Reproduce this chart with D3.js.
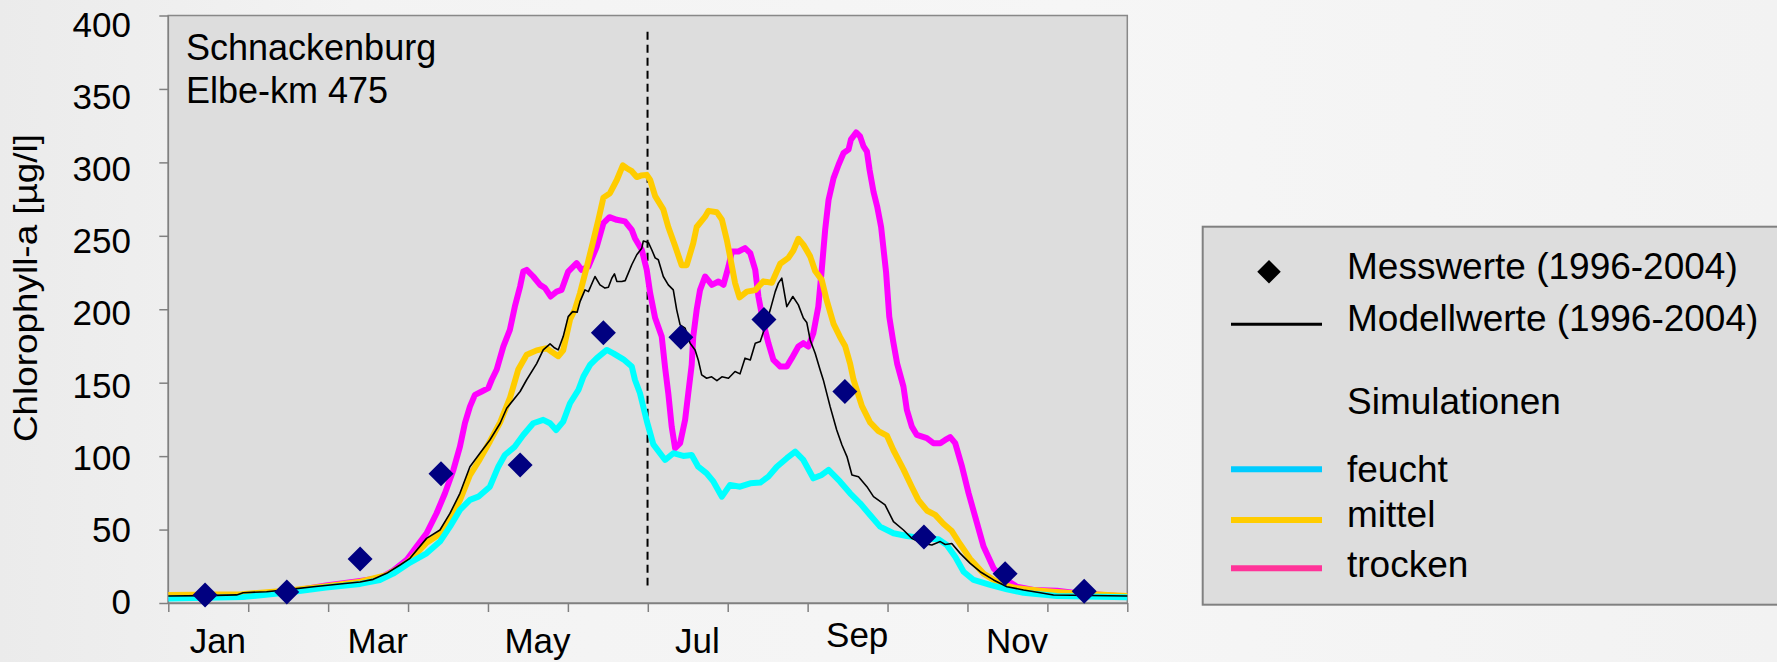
<!DOCTYPE html>
<html>
<head>
<meta charset="utf-8">
<script src="https://cdnjs.cloudflare.com/ajax/libs/d3/7.8.5/d3.min.js"></script>
<style>
    html, body { margin: 0; padding: 0; overflow: hidden; }
    body {
        width: 1777px; height: 662px;
        background: linear-gradient(to right, #ebebeb 0%, #f3f3f3 20%, #f6f6f6 60%, #f2f2f2 100%);
    }
    svg { display: block; font-family: "Liberation Sans", Arial, sans-serif; }
    .axis line, .axis path { stroke: #808080; stroke-width: 1.5; }
    .tick-label { font-size: 35px; fill: #000; }
    .legend-text { font-size: 37px; fill: #000; }
    .station-text { font-size: 36px; fill: #000; }
</style>
</head>
<body>
<div id="chart"></div>
<script>
// day of year (0-365) / Chlorophyll-a in µg/l
var monthLabels = ["Jan", "Mar", "May", "Jul", "Sep", "Nov"];
var labelMonths = [0, 2, 4, 6, 8, 10];
var yTicks = [0, 50, 100, 150, 200, 250, 300, 350, 400];
var dashDay = 182.4;
var dashRange = [12, 389];

var messwerte = [
    [14.0, 5.4], [45.1, 7.5], [73.0, 30], [103.8, 88], [133.9, 94], [165.6, 184],
    [195.1, 181], [226.7, 193], [257.5, 144], [287.6, 45], [318.5, 20], [348.6, 8]
];

var modellwerte = [
    [0, 4.8], [14, 5], [26, 5.5], [28.5, 7], [37.4, 7.7], [46.3, 9.3], [55.2, 11.1], [65.3, 12.9],
    [73, 14.3], [78, 16.1], [83.1, 20.2], [88.2, 25.9], [92, 30.4], [98.3, 44], [103.4, 49.7],
    [107.2, 61], [111, 74.7], [114.8, 92.8], [118.6, 102], [122.4, 111], [126.3, 122.4],
    [128.8, 132.6], [133.9, 144], [136.4, 152], [140.2, 163], [142.7, 172.3], [145.3, 176.4],
    [146.8, 174], [148.4, 172.3], [150.3, 181.4], [152.2, 195], [153.9, 198.4], [155.6, 198],
    [156.7, 205.2], [158.6, 213.2], [159.9, 212], [162.4, 222.3], [164.3, 216.6], [166.2, 214.4],
    [167.5, 215], [168.8, 221.1], [169.8, 224.1], [170.7, 219], [172.6, 218.9], [173.9, 219.5],
    [176.4, 230.3], [178.3, 237.1], [180.2, 241.6], [180.8, 246.5], [182.7, 245.5], [184, 240.5],
    [185.3, 235], [186.5, 233.7], [188.4, 222.3], [190.3, 216.6], [192.2, 213.2], [193.5, 199.6],
    [194.8, 189.4], [196.7, 187.1], [198.6, 176.9], [200.5, 172.3], [201.7, 165.5], [203, 155.3],
    [204.9, 153], [206.8, 154], [208.8, 151.4], [210.7, 154], [213.2, 153], [215.7, 157.6],
    [217.6, 156], [219.5, 166.7], [221.5, 165.5], [223.4, 176.9], [225.3, 178], [227.2, 188.2],
    [229.1, 199.6], [231, 212], [232.2, 217.8], [233.5, 221.2], [235.4, 201.8], [237.7, 208.7],
    [239.8, 203], [241.7, 194], [243, 191], [244.3, 179.1], [246.2, 170], [248.1, 158.7],
    [249.3, 151.9], [251.9, 133.7], [254.4, 117.8], [256.4, 107.6], [258.3, 99.7], [260.2, 87.2],
    [262.7, 86], [265.9, 79.2], [268.4, 72.4], [272.8, 66.8], [276, 55.4], [279.8, 49.7],
    [283, 44], [286.8, 40.7], [290.6, 39.5], [293.8, 41.8], [295.7, 39.8], [298.2, 40.5],
    [301.4, 33.8], [305.2, 27], [309, 21.3], [314.1, 15.7], [319.2, 11.1], [325.5, 8.9],
    [331.9, 7], [336.9, 5.4], [365, 4.8]
];

var feucht = [
    [0, 3], [28, 4], [47, 7.5], [60, 10.5], [73, 13], [80.5, 15.7], [85.6, 20], [92, 27.5],
    [98.3, 33.8], [103.4, 41.8], [107.2, 52], [111, 63.4], [114.8, 70.2], [118, 72.4], [122.4, 79.2],
    [125.6, 92.8], [128.1, 100.8], [131.9, 106.5], [135.1, 114.4], [138.9, 122.4], [142.7, 124.7],
    [145.3, 122.4], [147.6, 117.8], [150.3, 123.5], [152.9, 136], [156.1, 145.1], [158, 154.2],
    [160.5, 162.1], [163.1, 166.7], [166.9, 172.3], [169.4, 170], [173.2, 165.9], [176.4, 161],
    [177.6, 152], [179.5, 143], [182.1, 124], [184.6, 108], [189.1, 97.4], [192.2, 102],
    [196, 100.1], [199.2, 100.8], [201.7, 92.8], [204.9, 88.3], [207.5, 82.6], [210.7, 72.4],
    [213.8, 80.4], [217.6, 79.2], [221.5, 81.5], [225.3, 82], [228.4, 86], [231.6, 92.8],
    [235.4, 98.6], [238.6, 103.1], [241.7, 97.4], [245.5, 84.9], [248.7, 87.2], [251.3, 90.6],
    [255.7, 82.6], [259.5, 74.7], [263.3, 67.9], [267.1, 59.9], [270.9, 52], [276, 47.5],
    [281.1, 45.6], [287.4, 44], [293.1, 43.4], [296.3, 39.5], [299.5, 31.5], [302.7, 21.3],
    [306.5, 15.7], [312.8, 12.3], [319.2, 9.3], [325.5, 7], [338.2, 4.8], [365, 3.9]
];

var mittel = [
    [0, 5.5], [28, 6], [46, 8.5], [60, 11.5], [73, 14.5], [83, 19], [88, 24], [92, 29],
    [98.3, 41], [103.4, 47], [107.2, 57], [111, 70], [114.8, 87], [118.6, 98], [122.4, 110],
    [126.3, 123], [130.1, 140], [133.2, 159], [136.4, 169], [140.2, 172], [144, 173.5],
    [145.9, 171], [148.4, 168], [150.3, 172], [152.9, 193], [154.8, 200], [156.7, 211],
    [159.3, 229], [161.8, 247], [163.7, 261], [165.6, 276], [168.1, 279], [170.7, 288],
    [173, 298], [174.5, 296], [176.4, 294], [178.3, 290], [179.9, 291], [182.1, 291.5],
    [183.4, 288], [185.3, 277], [188.4, 268], [190.3, 256], [192.9, 243], [195.4, 230],
    [197.3, 230], [199.8, 245], [201.1, 256], [204.3, 263], [205.6, 267], [208.8, 266],
    [210.7, 261], [212.6, 247], [213.8, 236], [215.7, 218], [217.4, 208], [220.2, 212],
    [223.4, 213], [226.5, 219], [229.7, 218], [232.9, 231], [236, 235], [237.9, 240],
    [239.8, 248], [241.7, 244], [244.3, 236], [246.2, 226], [248.7, 220], [250.6, 206],
    [253.2, 190], [255.7, 181], [257.6, 175], [259.5, 163], [260.8, 152], [264, 134],
    [267.1, 123], [270.3, 117], [273.5, 114], [276, 104], [279.8, 91], [283, 79],
    [285.5, 70], [288.7, 63], [291.9, 60], [295, 54], [298.2, 49], [301.4, 40],
    [305.2, 30], [310.3, 20], [316.6, 13], [323, 10], [331.9, 8.4], [344.4, 6.6], [365, 4.8]
];

var trocken = [
    [0, 4], [28, 4.5], [47, 8], [60, 12], [73, 15], [80.5, 17], [85.6, 22], [90.7, 29.3],
    [94.5, 38.4], [98.3, 47.5], [102.1, 61.1], [105.3, 74.7], [108.5, 90.6], [111, 106.5],
    [112.9, 122.4], [114.8, 133.7], [116.7, 141.7], [119.3, 144], [121.8, 146.3], [123.1, 152],
    [125, 159], [127.5, 174.6], [130, 186], [131.9, 201.8], [133.9, 215.5], [135.1, 225.7],
    [136.4, 226.8], [138.9, 222.3], [141.5, 216.6], [143.4, 214.4], [145.5, 208.7], [147.8, 212],
    [149.7, 213.2], [152.2, 225.7], [155.4, 231.4], [157.3, 226.8], [159.9, 229.1], [163.1, 242.7],
    [165.6, 258.6], [167.9, 262.7], [170.7, 260.9], [173.8, 259.8], [176.4, 254], [177.6, 248.4],
    [180.2, 240.5], [182.1, 226.8], [183.4, 211], [185.3, 194], [187.8, 181.4], [189.1, 160],
    [190.3, 142.8], [191.6, 120], [192.9, 105.4], [194.8, 108.8], [196.7, 124.7], [197.9, 142.8],
    [199.2, 162], [199.8, 181.4], [201.1, 199.6], [202.4, 213.2], [204.3, 222.3], [206.9, 216.6],
    [209.4, 218.9], [211.3, 216.6], [213.2, 229], [214.5, 239.3], [217, 239.3], [219.5, 241.6],
    [221.5, 238.2], [223.4, 226.8], [224.6, 208.7], [226.5, 190.5], [228.4, 176.9], [230.3, 165.5],
    [232.9, 161], [235.4, 161], [237.3, 166.7], [239.8, 174.6], [241.7, 176.9], [243.6, 174.6],
    [245.5, 183.7], [247.4, 201.8], [248.7, 226.8], [250, 254], [251.3, 274.5], [253.2, 289.3],
    [255.1, 298.4], [257, 306.4], [258.9, 308.7], [259.8, 315.5], [261.8, 320.4], [263.3, 317.7],
    [264.6, 310.9], [265.9, 307.4], [266.9, 295], [268.4, 280], [269.8, 270], [271.3, 256],
    [273.2, 225], [274.4, 195], [275.9, 178], [277.4, 163], [279.8, 147.3], [281.1, 131.5],
    [283, 120.1], [284.9, 114.4], [288.7, 112.2], [291.2, 108.8], [293.8, 108.8], [295.7, 111],
    [297.6, 112.9], [299.5, 108.8], [302.1, 92.8], [304.6, 74.7], [307.1, 58.8], [310.3, 38.4],
    [314.1, 23.6], [317.9, 16.8], [323, 11.1], [329.3, 8.9], [338.2, 8.4], [344.5, 7], [365, 4.3]
];

var legendItems = [
    {label: "feucht", color: "#00ccff"},
    {label: "mittel", color: "#ffcc00"},
    {label: "trocken", color: "#ff3399"}
];

(function() {
    var width = 1777, height = 662;
    var plot = {left: 168.3, right: 1127.3, top: 15.5, bottom: 603};

    var x = d3.scaleLinear().domain([0, 365]).range([plot.left, plot.right]);
    var y = d3.scaleLinear().domain([0, 400]).range([plot.bottom, plot.top]);
    // the tick labels sit on a slightly tighter spacing than the ticks
    var yLabel = d3.scaleLinear().domain([0, 400]).range([601.7, 24]);
    var monthStep = 365 / 12;

    var svg = d3.select("#chart").append("svg")
        .attr("width", width)
        .attr("height", height);

    svg.append("rect")
        .attr("x", plot.left)
        .attr("y", plot.top)
        .attr("width", plot.right - plot.left)
        .attr("height", plot.bottom - plot.top)
        .style("fill", "#dddddd")
        .style("stroke", "#888888")
        .style("stroke-width", 1.5);

    // axes
    var yAxis = svg.append("g").classed("axis", true)
        .attr("transform", "translate(" + plot.left + ",0)")
        .call(d3.axisLeft(y).tickValues(yTicks).tickSize(9).tickFormat(""));
    yAxis.select(".domain").remove();
    svg.append("line")
        .attr("x1", plot.left).attr("x2", plot.left)
        .attr("y1", plot.top).attr("y2", plot.bottom)
        .style("stroke", "#808080").style("stroke-width", 1.5);

    svg.append("g")
        .selectAll("text")
        .data(yTicks)
        .enter()
        .append("text")
            .classed("tick-label", true)
            .attr("x", 131)
            .attr("y", function(d) { return yLabel(d); })
            .attr("dy", "0.36em")
            .attr("text-anchor", "end")
            .text(function(d) { return d; });

    var xAxis = svg.append("g").classed("axis", true)
        .attr("transform", "translate(0," + plot.bottom + ")")
        .call(d3.axisBottom(x).tickValues(d3.range(13).map(function(i) { return i * monthStep; }))
            .tickSize(9).tickSizeOuter(0).tickFormat(""));

    svg.append("g")
        .selectAll("text")
        .data(monthLabels)
        .enter()
        .append("text")
            .classed("tick-label", true)
            .attr("x", function(d, i) { return x((labelMonths[i] + 0.62) * monthStep); })
            .attr("y", function(d) { return d == "Sep" ? 647 : 653; })
            .attr("text-anchor", "middle")
            .text(function(d) { return d; });

    svg.append("text")
        .classed("tick-label", true)
        .attr("transform", "translate(37, 288) rotate(-90)")
        .attr("text-anchor", "middle")
        .attr("textLength", 308)
        .attr("lengthAdjust", "spacingAndGlyphs")
        .style("font-size", "33px")
        .text("Chlorophyll-a [µg/l]");

    // station label
    var station = svg.append("g").attr("transform", "translate(186, 0)");
    station.append("text").classed("station-text", true).attr("y", 60).text("Schnackenburg");
    station.append("text").classed("station-text", true).attr("y", 103).text("Elbe-km 475");

    // dashed separator
    svg.append("line")
        .attr("x1", x(dashDay)).attr("x2", x(dashDay))
        .attr("y1", y(dashRange[1])).attr("y2", y(dashRange[0]))
        .style("stroke", "#000")
        .style("stroke-width", 2)
        .style("stroke-dasharray", "8,5");

    var line = d3.line()
        .x(function(d) { return x(d[0]); })
        .y(function(d) { return y(d[1]); });

    var series = [
        {data: trocken, color: "#ff00ff", w: 6},
        {data: mittel, color: "#ffcc00", w: 6},
        {data: feucht, color: "#00ffff", w: 6},
        {data: modellwerte, color: "#000000", w: 1.6}
    ];

    svg.append("g")
        .selectAll("path")
        .data(series)
        .enter()
        .append("path")
            .attr("d", function(d) { return line(d.data); })
            .style("fill", "none")
            .style("stroke", function(d) { return d.color; })
            .style("stroke-width", function(d) { return d.w; })
            .style("stroke-linejoin", "round")
            .style("stroke-linecap", "butt");

    var diamond = d3.symbol().type(d3.symbolSquare).size(312);
    svg.append("g")
        .selectAll("path")
        .data(messwerte)
        .enter()
        .append("path")
            .attr("d", diamond)
            .attr("transform", function(d) { return "translate(" + x(d[0]) + "," + y(d[1]) + ") rotate(45)"; })
            .style("fill", "#000080");

    // legend
    var legend = svg.append("g").classed("legend", true);
    legend.append("rect")
        .attr("x", 1202.7)
        .attr("y", 226.7)
        .attr("width", 700)
        .attr("height", 378)
        .style("fill", "#dddddd")
        .style("stroke", "#808080")
        .style("stroke-width", 2);

    legend.append("path")
        .attr("d", d3.symbol().type(d3.symbolSquare).size(276))
        .attr("transform", "translate(1269, 271.7) rotate(45)")
        .style("fill", "#000");
    legend.append("text").classed("legend-text", true)
        .attr("x", 1347).attr("y", 278.5).text("Messwerte (1996-2004)");

    legend.append("line")
        .attr("x1", 1231).attr("x2", 1322).attr("y1", 324.3).attr("y2", 324.3)
        .style("stroke", "#000").style("stroke-width", 3);
    legend.append("text").classed("legend-text", true)
        .attr("x", 1347).attr("y", 331).text("Modellwerte (1996-2004)");

    legend.append("text").classed("legend-text", true)
        .attr("x", 1347).attr("y", 414).text("Simulationen");

    var simLineY = [469.3, 520, 568.3];
    var simTextY = [481.7, 527, 577];
    var items = legend.selectAll(".sim")
        .data(legendItems)
        .enter()
        .append("g")
            .classed("sim", true);
    items.append("line")
        .attr("x1", 1231).attr("x2", 1322)
        .attr("y1", function(d, i) { return simLineY[i]; })
        .attr("y2", function(d, i) { return simLineY[i]; })
        .style("stroke", function(d) { return d.color; })
        .style("stroke-width", 6);
    items.append("text").classed("legend-text", true)
        .attr("x", 1347)
        .attr("y", function(d, i) { return simTextY[i]; })
        .text(function(d) { return d.label; });
})();
</script>
</body>
</html>
